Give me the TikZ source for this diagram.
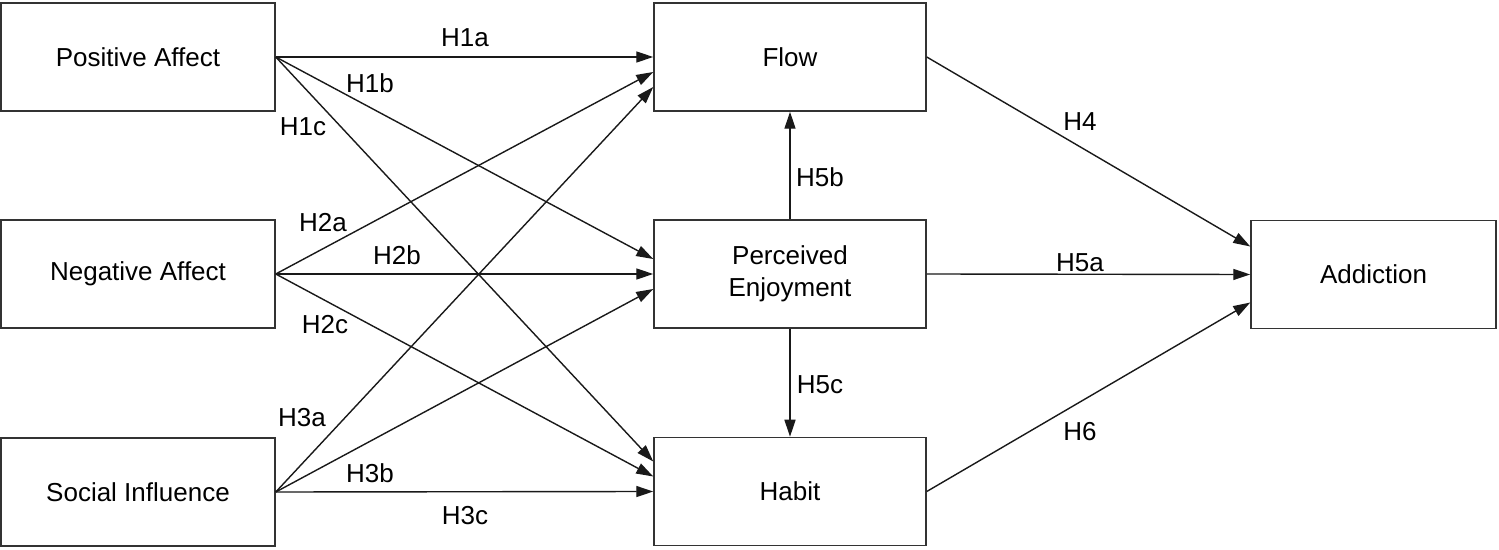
\documentclass[tikz,border=0pt]{standalone}
\usepackage{fontspec}
\setmainfont{Liberation Sans}
\usetikzlibrary{arrows.meta}
\begin{document}
\begin{tikzpicture}[x=0.5pt,y=-0.5pt,
  box/.style={draw=black!80, line width=0.75pt, rectangle, minimum height=54pt, inner sep=0pt, align=center, font=\fontsize{13pt}{16pt}\selectfont},
  lbox/.style={box, minimum width=137pt},
  rbox/.style={box, minimum width=136pt},
  abox/.style={box, minimum width=122.5pt},
  conn/.style={draw=black!90, line width=0.7pt, -{Triangle[length=8.5pt,width=5.5pt]}},
  lab/.style={inner sep=0pt, font=\fontsize{13pt}{16pt}\selectfont}]
\useasboundingbox (0,0) rectangle (1499,550);
% boxes
\node[lbox] (pa) at (138,57) {Positive Affect};
\node[lbox] (na) at (138,274) {Negative Affect};
\node[lbox] (si) at (138,492) {Social Influence};
\node[rbox] (flow) at (790,57) {Flow};
\node[rbox] (pe) at (790,274) {Perceived\\Enjoyment};
\node[rbox] (hab) at (790,491.5) {Habit};
\node[abox] (add) at (1373.5,274.5) {Addiction};
% connectors
\draw[conn] (pa.east) -- (flow.west);
\draw[conn] (pa.east) -- ([yshift=7.5pt]pe.west);
\draw[conn] (pa.east) -- ([yshift=15pt]hab.west);
\draw[conn] (na.east) -- ([yshift=-7.5pt]flow.west);
\draw[conn] (na.east) -- (pe.west);
\draw[conn] (na.east) -- ([yshift=7.5pt]hab.west);
\draw[conn] (si.east) -- ([yshift=-15pt]flow.west);
\draw[conn] (si.east) -- ([yshift=-7.5pt]pe.west);
\draw[conn] (si.east) -- (hab.west);
\draw[conn] (pe.north) -- (flow.south);
\draw[conn] (pe.south) -- (hab.north);
\draw[conn] (flow.east) -- ([yshift=14pt]add.west);
\draw[conn] (pe.east) -- (add.west);
\draw[conn] (hab.east) -- ([yshift=-14pt]add.west);
% labels
\node[lab] (l1a) at (465,38) {H1a};
\node[lab] (l1b) at (370,83) {H1b};
\node[lab] (l1c) at (303,127) {H1c};
\node[lab] (l2a) at (323,223) {H2a};
\node[lab] (l2b) at (397,255) {H2b};
\node[lab] (l2c) at (325,325) {H2c};
\node[lab] (l3a) at (302,418) {H3a};
\node[lab] (l3b) at (370,473) {H3b};
\node[lab] (l3c) at (465,516) {H3c};
\node[lab] (l5b) at (820,177) {H5b};
\node[lab] (l5c) at (820,385) {H5c};
\node[lab] (l4) at (1080,122) {H4};
\node[lab] (l5a) at (1080,263) {H5a};
\node[lab] (l6) at (1080,432) {H6};
\end{tikzpicture}
\end{document}
